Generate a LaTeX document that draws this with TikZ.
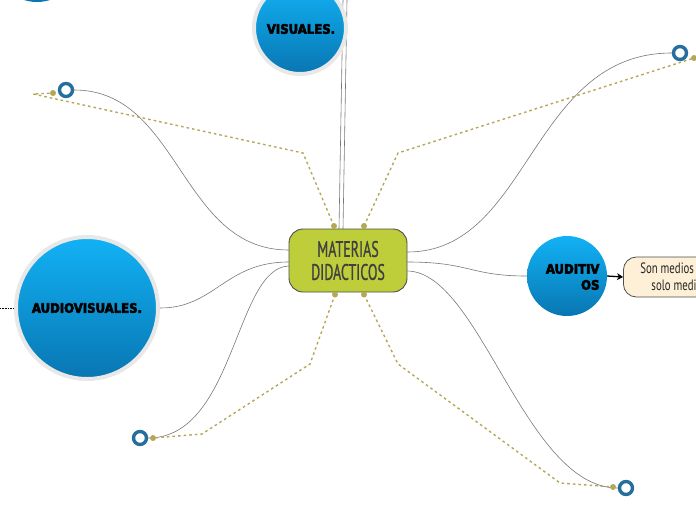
\documentclass[tikz,border=0pt]{standalone}
\usepackage{fontspec}
\setmainfont{Liberation Sans}
\newfontfamily\heavyfont[FakeBold=4]{DejaVu Sans Condensed Bold}
\newfontfamily\condfont[FakeStretch=0.62,FakeBold=0.8]{PT Sans}
\newfontfamily\desctfont[FakeStretch=0.72]{PT Sans}
\usetikzlibrary{backgrounds,arrows.meta}
\definecolor{blueT}{RGB}{18,178,245}
\definecolor{blueB}{RGB}{8,118,178}
\definecolor{ringgray}{RGB}{232,232,232}
\definecolor{centgreen}{RGB}{190,206,58}
\definecolor{olive}{RGB}{180,168,88}
\definecolor{markblue}{RGB}{38,110,158}
\definecolor{cream}{RGB}{253,240,214}
\definecolor{linegray}{RGB}{120,120,120}
\tikzset{
  bubble/.style={circle, top color=blueT, bottom color=blueB, inner sep=0pt},
  ringed/.style={draw=ringgray, line width=4pt},
  bubtext/.style={text=black},
  conn/.style={draw=linegray, line width=0.6pt},
  dashlink/.style={draw=olive, line width=1.4pt, dash pattern=on 2.6pt off 3pt},
  olivedot/.style={circle, fill=olive, inner sep=0pt, minimum size=6pt},
  marker/.style={circle, draw=markblue, line width=3.4pt, fill=white, inner sep=0pt, minimum size=13pt},
}
\begin{document}
\begin{tikzpicture}[x=1pt,y=-1pt]
\useasboundingbox (0,0) rectangle (696,520);
% partial circle top-left
\node[bubble, minimum size=86pt] (topleft) at (37,-41) {};
% main bubbles
\node[bubble, ringed, minimum size=92pt] (visuales) at (300,28) {};
\node[bubtext, font=\heavyfont\fontsize{13}{14}\selectfont] (vistxt) at (301,29) {VISUALES.};
\node[bubble, ringed, minimum size=142pt] (audiovis) at (87,308) {};
\node[bubtext, font=\heavyfont\fontsize{13}{14}\selectfont] (avtxt) at (87,308) {AUDIOVISUALES.};
\node[bubble, minimum size=80pt] (auditivos) at (567,276) {};
\node[bubtext, font=\heavyfont\fontsize{13}{16}\selectfont, align=right, anchor=east] (audtxt) at (603,277) {AUDITIV\\OS};
% central node
\node[draw=black!70, line width=0.9pt, fill=centgreen, rounded corners=14pt, minimum width=118pt, minimum height=63pt, align=center, text=black!75, font=\condfont\fontsize{22.5}{23}\selectfont] (center) at (348,260.5) {MATERIAS\\DIDACTICOS};
% description box
\node[draw=black!70, line width=0.8pt, fill=cream, rounded corners=13pt, inner xsep=17pt, minimum height=40pt, anchor=west, align=center, text=black!85, font=\desctfont\fontsize{15}{17}\selectfont] (desc) at (623,277) {Son medios que emplean\\solo medios sonoros};
% markers
\node[marker] (m1) at (66,90) {};
\node[marker] (m2) at (680,53) {};
\node[marker] (m3) at (140,438) {};
\node[marker] (m4) at (626,488) {};
% olive dots
\node[olivedot] (d1) at (53,93) {};
\node[olivedot] (d2) at (694,58) {};
\node[olivedot] (d3) at (153,438) {};
\node[olivedot] (d4) at (613,487) {};
\node[olivedot] (c1) at (334,226) {};
\node[olivedot] (c2) at (364,226) {};
\node[olivedot] (c3) at (335,294.5) {};
\node[olivedot] (c4) at (364,294.5) {};
% coordinates
\coordinate (e1) at (303,153);
\coordinate (f1) at (33,94);
\coordinate (e2) at (398,153);
\coordinate (e3) at (310,364);
\coordinate (f3) at (202,434);
\coordinate (e4) at (398,364);
\coordinate (f4) at (560,483);
\coordinate (vt1) at (343,0);
\coordinate (vt2) at (347,0);
\coordinate (vb1) at (339,229);
\coordinate (vb2) at (343,229);
\coordinate (lft) at (0,308);
\begin{scope}[on background layer]
  \draw[conn] (center.west |- 0,250) .. controls (180,250) and (180,90) .. (m1.east);
  \draw[conn] (center.east |- 0,252) .. controls (530,252) and (530,53) .. (m2.west);
  \draw[conn] (center.west |- 0,266) .. controls (235,268) and (235,438) .. (m3.east);
  \draw[conn] (center.east |- 0,271) .. controls (480,272) and (525,488) .. (m4.west);
  \draw[conn] (center.west |- 0,262) .. controls (225,262) and (215,308) .. (audiovis.east);
  \draw[conn] (center.east |- 0,262) .. controls (470,262) and (470,276) .. (auditivos.west);
  \draw[conn] (vb1) -- (vt1);
  \draw[conn] (vb2) -- (vt2);
  \draw[dashlink] (c1.center) -- (e1) -- (f1) -- (d1.center);
  \draw[dashlink] (c2.center) -- (e2) -- (d2.center);
  \draw[dashlink] (c3.center) -- (e3) -- (f3) -- (d3.center);
  \draw[dashlink] (c4.center) -- (e4) -- (f4) -- (d4.center);
  \draw[black, line width=0.8pt, dash pattern=on 0.8pt off 0.8pt] (lft) -- (audiovis.west);
\end{scope}
\draw[black, line width=1.3pt, -{Stealth[length=6pt,width=7pt]}] (auditivos.east) -- (desc.west);
\end{tikzpicture}
\end{document}
